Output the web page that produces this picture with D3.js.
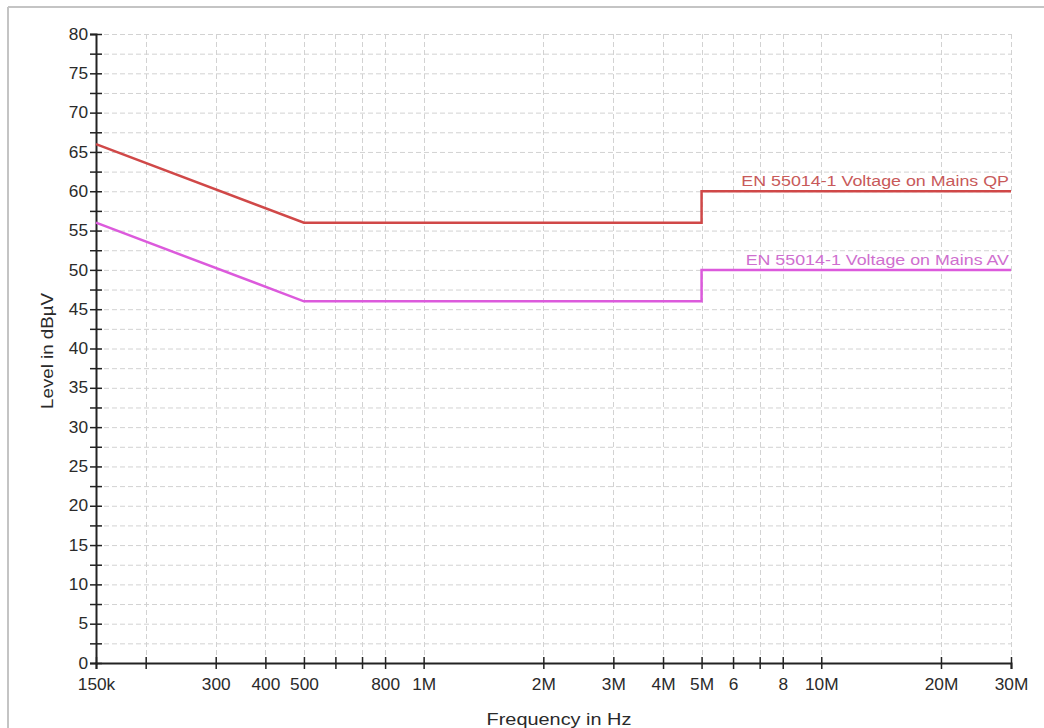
<!DOCTYPE html>
<html>
<head>
<meta charset="utf-8">
<script src="https://cdn.jsdelivr.net/npm/d3@7"></script>
<style>
body{margin:0;background:#fff;font-family:"Liberation Sans",Arial,sans-serif;}
#canvas{width:1044px;height:728px;}
</style>
</head>
<body>
<div id="canvas" class="canvas"></div>
<script>
// limit lines, frequency in Hz, level in dBuV
var qpFreq = [150e3, 500e3, 5e6, 5e6, 30e6];
var qpLevel = [66, 56, 56, 60, 60];
var avFreq = [150e3, 500e3, 5e6, 5e6, 30e6];
var avLevel = [56, 46, 46, 50, 50];

var xTicks = [150e3,200e3,300e3,400e3,500e3,600e3,700e3,800e3,1e6,2e6,3e6,4e6,5e6,6e6,7e6,8e6,10e6,20e6,30e6];
var xLabels = {150e3:'150k',300e3:'300',400e3:'400',500e3:'500',800e3:'800',1e6:'1M',2e6:'2M',3e6:'3M',4e6:'4M',5e6:'5M',6e6:'6',8e6:'8',10e6:'10M',20e6:'20M',30e6:'30M'};
var yMajor = d3.range(0, 81, 5);
var yMinor = d3.range(2.5, 80, 5);

var m = {t:34,r:33,b:65,l:96};
var W = 1044, H = 728;
var w = W - m.l - m.r, h = H - m.t - m.b;

var svg = d3.select('.canvas').append('svg')
    .attr('width', W).attr('height', H);

// stretch text sideways, the original font is wider
function stretch(sel, sx){
    sel.each(function(){
        var t = d3.select(this);
        var x0 = +t.attr('x') || 0;
        t.attr('x', x0/sx).attr('transform','scale(' + sx + ',1)');
    });
}

// frame
svg.append('line').attr('x1',8).attr('x2',W).attr('y1',7).attr('y2',7)
    .style('stroke','#c4c4c4').style('stroke-width',2);
svg.append('line').attr('x1',8).attr('x2',8).attr('y1',7).attr('y2',H)
    .style('stroke','#c4c4c4').style('stroke-width',2);

var plot = svg.append('g').attr('transform','translate(' + m.l + ',' + m.t + ')');

var x = d3.scaleLog().domain([150e3, 30e6]).range([0, w]);
var y = d3.scaleLinear().domain([0, 80]).range([h, 0]);

// grid
plot.selectAll('.hgrid').data(yMajor.concat(yMinor).filter(function(d){return d>0}))
    .enter().append('line')
    .attr('x1',0).attr('x2',w)
    .attr('y1',function(d){return y(d)+0.5}).attr('y2',function(d){return y(d)+0.5})
    .style('stroke','#d2d2d2').style('stroke-dasharray','5,3');
plot.selectAll('.vgrid').data(xTicks.slice(1))
    .enter().append('line')
    .attr('x1',function(d){return Math.round(x(d))+0.5}).attr('x2',function(d){return Math.round(x(d))+0.5})
    .attr('y1',0).attr('y2',h)
    .style('stroke','#d2d2d2').style('stroke-dasharray','5,3');

// axes
var xAxis = d3.axisBottom(x).tickValues(xTicks)
    .tickFormat(function(d){return xLabels[d] || ''})
    .tickSizeOuter(0).tickSize(6);
var gx = plot.append('g').attr('transform','translate(0,' + h + ')').call(xAxis);
gx.selectAll('.tick line').attr('y1',-6).attr('y2',6);
gx.selectAll('.tick text').attr('y',16);

var yAxis = d3.axisLeft(y).tickValues(yMajor).tickSizeOuter(0).tickSize(6);
var gy = plot.append('g').call(yAxis);
gy.selectAll('.tick line').attr('x1',-6).attr('x2',6);
gy.selectAll('.tick text').attr('x',-8);
gy.selectAll('.minor').data(yMinor).enter().append('line')
    .attr('x1',-6).attr('x2',6)
    .attr('y1',function(d){return y(d)+0.5}).attr('y2',function(d){return y(d)+0.5})
    .style('stroke','#222').style('stroke-width',1.5);

[gx, gy].forEach(function(g){
    g.selectAll('.domain').style('stroke','#222').style('stroke-width',2);
    g.selectAll('.tick line').style('stroke','#222').style('stroke-width',1.5);
    g.selectAll('.tick text').style('font-family','"Liberation Sans",Arial,sans-serif')
        .style('font-size','16px').style('fill','#2a2a2a');
    stretch(g.selectAll('.tick text'), 1.08);
});

// limit lines
var line = d3.line()
    .x(function(d){return x(d.f)})
    .y(function(d){return y(d.v)});

var series = [
    {name:'EN 55014-1 Voltage on Mains QP', f:qpFreq, v:qpLevel, color:'#d04848', text:'#c85a5a'},
    {name:'EN 55014-1 Voltage on Mains AV', f:avFreq, v:avLevel, color:'#dc5adc', text:'#cf6fcf'}
];

series.forEach(function(s){
    var pts = s.f.map(function(f,i){return {f:f, v:s.v[i]}});
    plot.append('path').datum(pts)
        .attr('d', line)
        .style('fill','none').style('stroke',s.color).style('stroke-width',2.5);
    var t = plot.append('text')
        .attr('x', w - 2).attr('y', y(s.v[s.v.length-1]) - 5)
        .attr('text-anchor','end')
        .style('font-size','15px').style('fill',s.text)
        .text(s.name);
    stretch(t, 1.19);
});

// titles
svg.append('text')
    .attr('transform','translate(53,' + 351 + ') rotate(-90) scale(1.17,1)')
    .attr('text-anchor','middle')
    .style('font-size','16px').style('fill','#2a2a2a')
    .text('Level in dBµV');
var xt = svg.append('text')
    .attr('x', 559).attr('y', 725)
    .attr('text-anchor','middle')
    .style('font-size','17px').style('fill','#2a2a2a')
    .text('Frequency in Hz');
stretch(xt, 1.17);
</script>
</body>
</html>
